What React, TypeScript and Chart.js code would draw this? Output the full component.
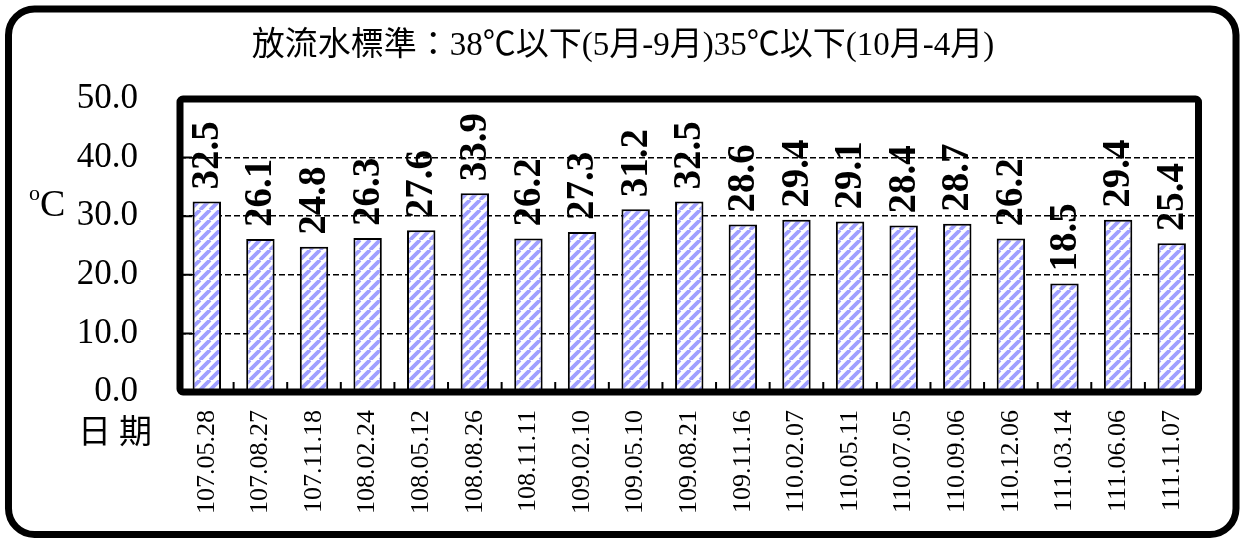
import React, { useEffect, useRef } from 'react';
import { Chart, registerables } from 'chart.js';

Chart.register(...registerables);

const categories = [
  '107.05.28', '107.08.27', '107.11.18', '108.02.24', '108.05.12', '108.08.26',
  '108.11.11', '109.02.10', '109.05.10', '109.08.21', '109.11.16', '110.02.07',
  '110.05.11', '110.07.05', '110.09.06', '110.12.06', '111.03.14', '111.06.06', '111.11.07',
];
const values = [32.5, 26.1, 24.8, 26.3, 27.6, 33.9, 26.2, 27.3, 31.2, 32.5, 28.6, 29.4, 29.1, 28.4, 28.7, 26.2, 18.5, 29.4, 25.4];
const yMin = 0;
const yMax = 50;
const yStep = 10;
const titleText = '放流水標準：38℃以下(5月-9月)35℃以下(10月-4月)';
const unitLabel = 'C';
const dateLabel = '日期';

const W = 1242;
const H = 538;
const SERIF = '"Liberation Serif", "Times New Roman", serif';
const CJK = '"Liberation Serif", "Noto Sans CJK TC", "Noto Sans CJK SC", sans-serif';

function makePattern(): CanvasPattern | string {
  const s = 10;
  const c = document.createElement('canvas');
  c.width = s;
  c.height = s;
  const g = c.getContext('2d');
  if (!g) return '#9999ff';
  g.fillStyle = '#ffffff';
  g.fillRect(0, 0, s, s);
  g.strokeStyle = '#a0a0ff';
  g.lineWidth = 3.8;
  g.beginPath();
  for (let k = -1; k <= 1; k++) {
    g.moveTo(k * s, s);
    g.lineTo(k * s + s, 0);
  }
  g.stroke();
  const p = g.createPattern(c, 'repeat');
  return p || '#9999ff';
}

const decorPlugin = {
  id: 'decor',
  beforeDraw(chart: any) {
    const ctx = chart.ctx as CanvasRenderingContext2D;
    ctx.save();
    ctx.fillStyle = '#ffffff';
    ctx.fillRect(0, 0, W, H);
    // outer rounded frame
    ctx.strokeStyle = '#000';
    ctx.lineWidth = 7;
    ctx.beginPath();
    (ctx as any).roundRect(8.5, 9, 1236 - 8.5, 534.5 - 9, 26);
    ctx.stroke();
    // title
    ctx.fillStyle = '#000';
    ctx.font = `33px ${CJK}`;
    ctx.textAlign = 'center';
    ctx.textBaseline = 'middle';
    ctx.fillText(titleText, W / 2 + 2, 46);
    // unit label  (superscript o + C)
    ctx.font = `22px ${SERIF}`;
    ctx.textAlign = 'left';
    ctx.textBaseline = 'alphabetic';
    ctx.fillText('o', 29, 200);
    ctx.font = `38px ${SERIF}`;
    ctx.fillText(unitLabel, 40, 216);
    // date label
    ctx.font = `33px ${CJK}`;
    ctx.textAlign = 'center';
    ctx.textBaseline = 'middle';
    (ctx as any).letterSpacing = '8px';
    ctx.fillText(dateLabel, 119, 434);
    (ctx as any).letterSpacing = '0px';
    ctx.restore();
  },
  afterDatasetsDraw(chart: any) {
    const ctx = chart.ctx as CanvasRenderingContext2D;
    const a = chart.chartArea;
    const xs = chart.scales.x;
    const ys = chart.scales.y;
    ctx.save();
    // small tick marks inside plot
    ctx.strokeStyle = '#000';
    ctx.lineWidth = 2;
    ctx.beginPath();
    const n = categories.length;
    for (let i = 1; i < n; i++) {
      const x = (xs.getPixelForValue(i - 1) + xs.getPixelForValue(i)) / 2;
      ctx.moveTo(x, a.bottom);
      ctx.lineTo(x, a.bottom - 10);
    }
    for (let v = yMin + yStep; v < yMax; v += yStep) {
      const y = ys.getPixelForValue(v);
      ctx.moveTo(a.left, y);
      ctx.lineTo(a.left + 12, y);
    }
    ctx.stroke();
    // thick plot frame
    ctx.lineWidth = 7;
    ctx.beginPath();
    (ctx as any).roundRect(a.left, a.top, a.right - a.left, a.bottom - a.top, 3);
    ctx.stroke();
    // data labels
    const meta = chart.getDatasetMeta(0);
    ctx.fillStyle = '#000';
    ctx.font = `bold 39px ${SERIF}`;
    ctx.textAlign = 'left';
    ctx.textBaseline = 'middle';
    meta.data.forEach((bar: any, i: number) => {
      ctx.save();
      ctx.translate(bar.x + 1, bar.y - 12);
      ctx.rotate(-Math.PI / 2);
      ctx.fillText(values[i].toFixed(1), 0, 0);
      ctx.restore();
    });
    ctx.restore();
  },
};

export default function App() {
  const ref = useRef<HTMLCanvasElement | null>(null);
  useEffect(() => {
    const canvas = ref.current;
    if (!canvas) return;
    const pattern = makePattern();
    const chart = new Chart(canvas, {
      type: 'bar',
      data: {
        labels: categories,
        datasets: [
          {
            data: values,
            backgroundColor: pattern as any,
            borderColor: '#000',
            borderWidth: 2,
            barPercentage: 0.53,
            categoryPercentage: 1,
          },
        ],
      },
      options: {
        responsive: false,
        animation: false,
        devicePixelRatio: 1,
        layout: { padding: { top: 99, right: 43.5, bottom: 0, left: 0 } },
        plugins: {
          legend: { display: false },
          title: { display: false },
          tooltip: { enabled: false },
        },
        scales: {
          x: {
            grid: { display: false, drawTicks: false },
            border: { display: false },
            ticks: {
              color: '#000',
              font: { family: SERIF, size: 26 },
              minRotation: 90,
              maxRotation: 90,
              autoSkip: false,
              padding: 18,
            },
            afterFit(scale: any) {
              scale.height = H - 392;
            },
          },
          y: {
            min: yMin,
            max: yMax,
            grid: {
              drawTicks: false,
              lineWidth: 1.5,
              color: (c: any) => (c.tick && (c.tick.value === yMin || c.tick.value === yMax) ? 'rgba(0,0,0,0)' : '#000'),
            },
            border: { display: false, dash: [6, 3] },
            ticks: {
              stepSize: yStep,
              color: '#000',
              font: { family: SERIF, size: 35 },
              padding: 42,
              callback: (v: any) => Number(v).toFixed(1),
            },
            afterFit(scale: any) {
              scale.width = 180;
            },
          },
        },
      },
      plugins: [decorPlugin],
    });
    return () => chart.destroy();
  }, []);
  return (
    <div style={{ position: 'absolute', left: 0, top: 0, width: W, height: H, background: '#fff' }}>
      <canvas ref={ref} width={W} height={H} style={{ display: 'block', width: W, height: H }} />
    </div>
  );
}
